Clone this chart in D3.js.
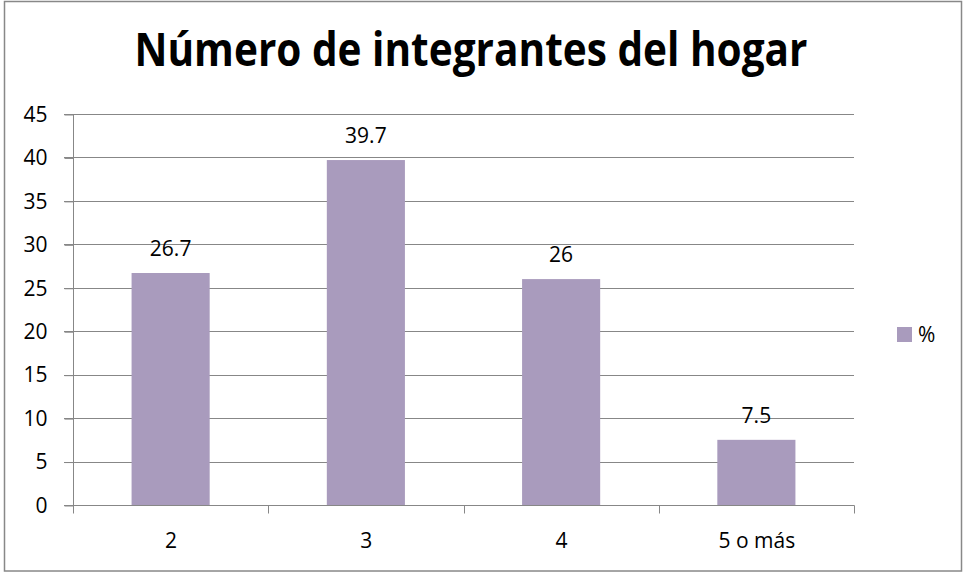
<!DOCTYPE html>
<html><head><meta charset="utf-8">
<script src="https://cdn.jsdelivr.net/npm/d3@7"></script>
<style>body{margin:0;background:#fff}svg{display:block}text{font-family:"Open Sans",sans-serif}</style>
</head><body>
<svg id="c" width="963" height="573"></svg>
<script>
const categories = ["2", "3", "4", "5 o más"];
const values = [26.7, 39.7, 26, 7.5];
const yTicks = [0, 5, 10, 15, 20, 25, 30, 35, 40, 45];
const seriesName = "%";
const title = "Número de integrantes del hogar";

const svg = d3.select("#c");
const W = 963, H = 573;
const m = {left: 73, right: 109, top: 114, bottom: 68};
const x0 = m.left, x1 = W - m.right, y0 = H - m.bottom, y1 = m.top;
const barColor = "#a99bbd", gridColor = "#878787";
const fs = 21;

svg.append("rect").attr("x", 4.5).attr("y", 1.5).attr("width", 957).attr("height", 569.5)
  .attr("fill", "#fff").attr("stroke", "#888").attr("stroke-width", 1.5);

const x = d3.scaleBand().domain(categories).range([x0, x1]).paddingInner(0).paddingOuter(0);
const y = d3.scaleLinear().domain([0, 45]).range([y0, y1]);

// gridlines
svg.append("g").selectAll("line").data(yTicks).join("line")
  .attr("x1", x0 - 9).attr("x2", x1)
  .attr("y1", d => Math.round(y(d)) + 0.5).attr("y2", d => Math.round(y(d)) + 0.5)
  .attr("stroke", gridColor).attr("stroke-width", 1);

// y axis
const ya = svg.append("g").attr("transform", `translate(${x0 + 0.5},0.5)`)
  .call(d3.axisLeft(y).tickValues(yTicks).tickSize(9).tickPadding(17));
ya.select(".domain").attr("stroke", gridColor).attr("d", `M0,${y(45)}V${y0 + 7}`);
ya.selectAll(".tick line").attr("stroke", gridColor);
ya.selectAll("text").attr("font-size", fs).attr("fill", "#000").attr("font-family", "Open Sans");

// bars
const bw = x.bandwidth() / 2.5;
svg.append("g").selectAll("rect").data(values).join("rect")
  .attr("x", (d, i) => x(categories[i]) + (x.bandwidth() - bw) / 2)
  .attr("width", bw)
  .attr("y", d => y(d)).attr("height", d => y0 - y(d))
  .attr("fill", barColor);

// x axis
const xa = svg.append("g").attr("transform", `translate(0.5,${Math.round(y0) + 0.5})`);
xa.append("line").attr("x1", x0).attr("x2", x1).attr("stroke", gridColor);
const bounds = categories.map(c => x(c)).concat([x1]);
xa.selectAll("line.t").data(bounds).join("line").attr("class", "t")
  .attr("x1", d => Math.round(d)).attr("x2", d => Math.round(d)).attr("y1", 0).attr("y2", 8)
  .attr("stroke", gridColor);
xa.selectAll("text").data(categories).join("text")
  .attr("x", d => x(d) + x.bandwidth() / 2).attr("y", 42)
  .attr("text-anchor", "middle").attr("font-size", fs).text(d => d);

// data labels
svg.append("g").selectAll("text").data(values).join("text")
  .attr("x", (d, i) => x(categories[i]) + x.bandwidth() / 2)
  .attr("y", d => y(d) - 17)
  .attr("text-anchor", "middle").attr("font-size", fs).text(d => d);

// legend
svg.append("rect").attr("x", 897).attr("y", 327).attr("width", 15).attr("height", 15).attr("fill", barColor);
svg.append("text").attr("x", 918).attr("y", 342).attr("font-size", fs).text(seriesName);

// title
svg.append("text").attr("x", 471).attr("y", 66).attr("text-anchor", "middle")
  .attr("font-size", 47).attr("font-weight", "bold")
  .attr("textLength", 673).attr("lengthAdjust", "spacingAndGlyphs").text(title);
</script>
</body></html>
